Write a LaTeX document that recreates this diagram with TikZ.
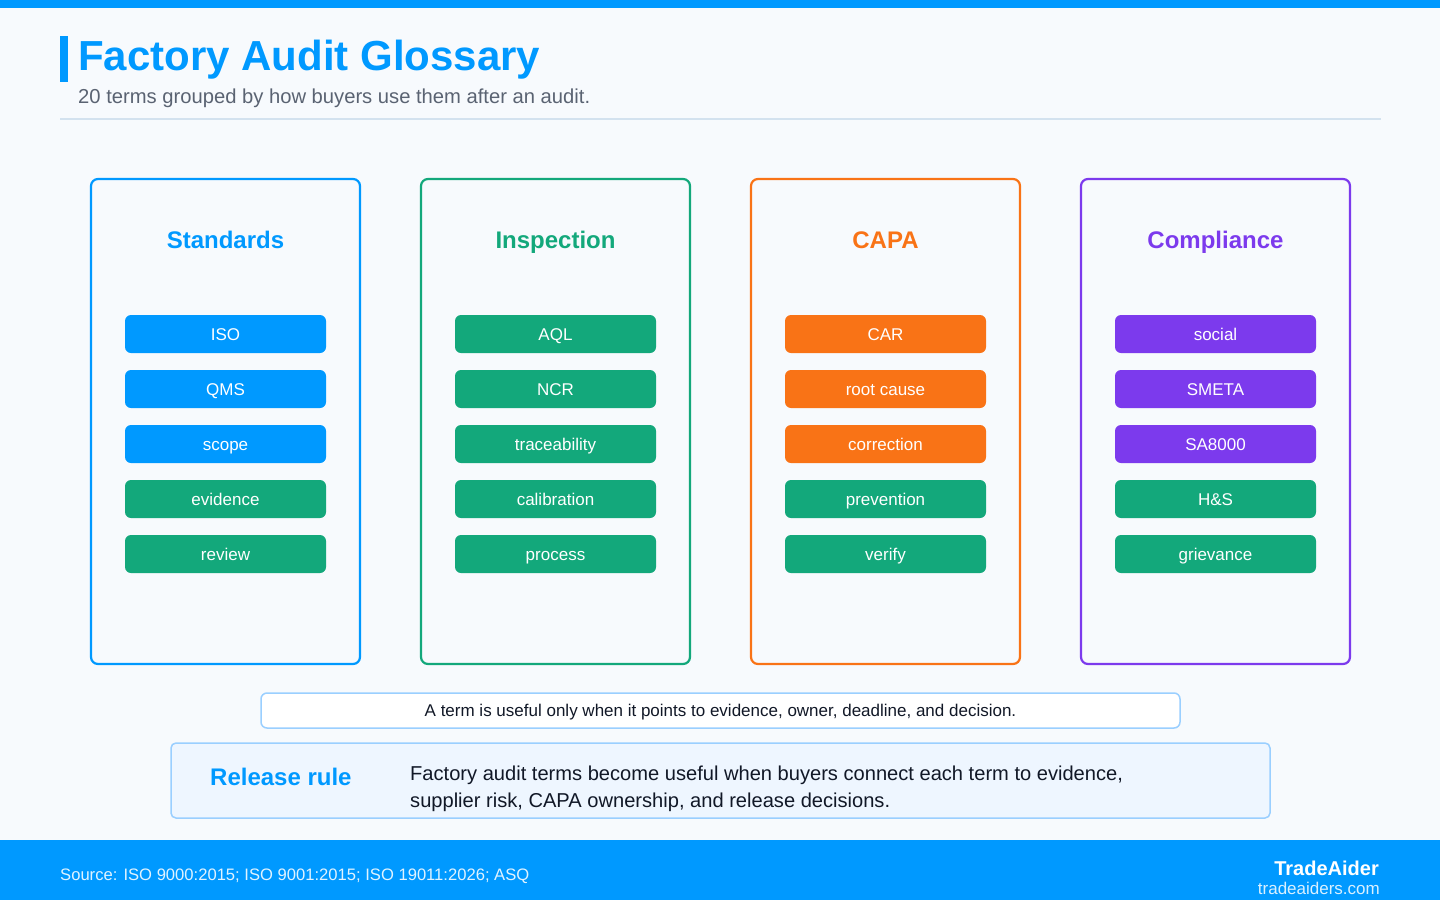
\documentclass[tikz,border=0pt]{standalone}
\usepackage{fontspec}
\setmainfont{Liberation Sans}
\usetikzlibrary{positioning}
\definecolor{bg}{HTML}{F7FAFD}
\definecolor{cblue}{HTML}{0099FF}
\definecolor{cgreen}{HTML}{13A87B}
\definecolor{corange}{HTML}{F97316}
\definecolor{cpurple}{HTML}{7C3AED}
\definecolor{subgray}{HTML}{5A6372}
\definecolor{sepline}{HTML}{D3E2EF}
\definecolor{notestroke}{HTML}{9ACFFF}
\definecolor{rulefill}{HTML}{EEF6FF}
\definecolor{txt}{HTML}{111827}
\tikzset{
  colbox/.style={draw=#1, line width=2.2pt, rounded corners=7pt, fill=bg, minimum width=269pt, minimum height=485pt, inner sep=0pt},
  colhead/.style={text=#1, inner sep=0pt, text height=17.2pt, text depth=0pt, font=\fontsize{24}{28}\selectfont\bfseries},
  chip/.style={fill=#1, rounded corners=6pt, minimum width=201pt, minimum height=38pt, inner sep=0pt, text height=12.2pt, text depth=0pt, text=white, font=\fontsize{17}{20}\selectfont},
}
\begin{document}
\begin{tikzpicture}[x=1pt,y=-1pt]
\useasboundingbox (0,0) rectangle (1440,900);
\fill[bg] (0,0) rectangle (1440,900);
\fill[cblue] (0,0) rectangle (1440,8);
% title
\fill[cblue] (60,36) rectangle (68,82);
\node[anchor=base west, inner sep=0pt, text=cblue, font=\fontsize{42}{48}\selectfont\bfseries] (title) at (78,70) {Factory Audit Glossary};
\node[anchor=base west, inner sep=0pt, text=subgray, font=\fontsize{20.2}{24}\selectfont] (subtitle) at (78,103) {20 terms grouped by how buyers use them after an audit.};
\draw[sepline, line width=1.5pt] (60,119) -- (1381,119);
% columns
\foreach \i/\name/\col/\head/\a/\b/\c/\d/\e in {
  0/std/cblue/Standards/ISO/QMS/scope/evidence/review,
  1/insp/cgreen/Inspection/AQL/NCR/traceability/calibration/process,
  2/capa/corange/CAPA/CAR/root cause/correction/prevention/verify,
  3/comp/cpurple/Compliance/social/SMETA/SA8000/H\&S/grievance}{
  \pgfmathsetmacro{\cx}{225.5+330*\i}
  \node[colbox=\col] (\name) at (\cx,421.5) {};
  \node[colhead=\col] (\name-h) at (\cx,240) {\head};
  \node[chip=\col] (\name-1) at (\cx,334) {\a};
  \node[chip=\col] (\name-2) at (\cx,389) {\b};
  \node[chip=\col] (\name-3) at (\cx,444) {\c};
  \node[chip=cgreen] (\name-4) at (\cx,499) {\d};
  \node[chip=cgreen] (\name-5) at (\cx,554) {\e};
}
% note
\node[draw=notestroke, line width=1.5pt, fill=white, rounded corners=6pt, minimum width=919pt, minimum height=35pt, inner sep=0pt, text height=12.2pt, text depth=0pt, font=\fontsize{17}{20}\selectfont, text=txt] (note) at (720.5,710.5) {A term is useful only when it points to evidence, owner, deadline, and decision.};
% release rule
\node[draw=notestroke, line width=1.5pt, fill=rulefill, rounded corners=5pt, minimum width=1099pt, minimum height=75pt, inner sep=0pt] (rule) at (720.5,780.5) {};
\node[anchor=west, inner sep=0pt, text height=17.2pt, text depth=0pt, text=cblue, font=\fontsize{24}{28}\selectfont\bfseries] (rule-h) at (210,777) {Release rule};
\node[anchor=north west, inner sep=0pt, align=left, text=txt, font=\fontsize{20.1}{27}\selectfont] (rule-t) at (410,766) {Factory audit terms become useful when buyers connect each term to evidence,\\supplier risk, CAPA ownership, and release decisions.};
% footer
\fill[cblue] (0,840) rectangle (1440,900);
\node[anchor=base west, inner sep=0pt, text=white!88!cblue, font=\fontsize{16.6}{19}\selectfont] (source) at (60,880) {Source: ISO 9000:2015; ISO 9001:2015; ISO 19011:2026; ASQ};
\node[anchor=base east, inner sep=0pt, text=white, font=\fontsize{20}{24}\selectfont\bfseries] (brand) at (1379,875) {TradeAider};
\node[anchor=base east, inner sep=0pt, text=white!85!cblue, font=\fontsize{17}{20}\selectfont] (url) at (1380,894) {tradeaiders.com};
\end{tikzpicture}
\end{document}
